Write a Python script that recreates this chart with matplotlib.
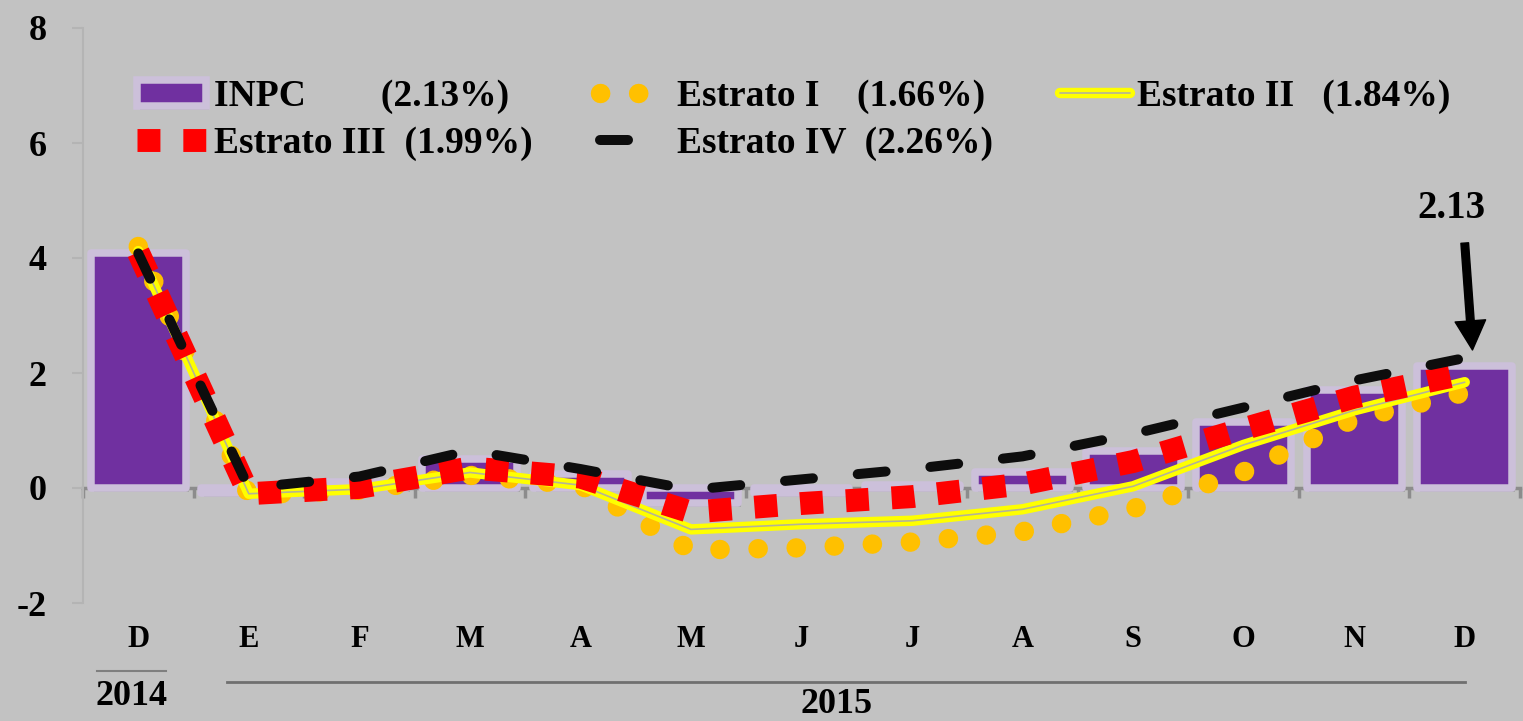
import numpy as np
import matplotlib
matplotlib.use("Agg")
import matplotlib.pyplot as plt
import matplotlib.patheffects as pe
from matplotlib.transforms import blended_transform_factory

# ---------------- data ----------------
months = ["D", "E", "F", "M", "A", "M", "J", "J", "A", "S", "O", "N", "D"]
inpc = [4.08, -0.09, 0.10, 0.51, 0.25, -0.26, -0.09, 0.06, 0.27, 0.64, 1.14, 1.70, 2.13]
estrato1 = [4.20, -0.12, -0.04, 0.22, 0.05, -1.08, -1.04, -0.94, -0.76, -0.36, 0.28, 1.20, 1.66]
estrato2 = [4.12, -0.10, -0.02, 0.27, 0.05, -0.72, -0.63, -0.57, -0.37, 0.03, 0.75, 1.35, 1.84]
estrato3 = [4.10, -0.10, 0.01, 0.35, 0.19, -0.42, -0.27, -0.15, 0.07, 0.46, 1.03, 1.58, 1.99]
estrato4 = [4.08, 0.00, 0.20, 0.65, 0.33, -0.03, 0.15, 0.33, 0.55, 0.94, 1.40, 1.87, 2.26]
labels = ["INPC        (2.13%)", "Estrato I    (1.66%)", "Estrato II   (1.84%)",
          "Estrato III  (1.99%)", "Estrato IV  (2.26%)"]
yticks = [-2, 0, 2, 4, 6, 8]

BG = "#c2c2c2"
plt.rcParams["font.family"] = ["Liberation Serif", "DejaVu Serif"]
plt.rcParams["font.weight"] = "bold"

fig = plt.figure(figsize=(15.23, 7.21), dpi=100, facecolor=BG)
ax = fig.add_axes([83 / 1523, 118 / 721, 1437 / 1523, 575 / 721], facecolor=BG)

x = np.arange(len(months))

bars = ax.bar(x, inpc, width=0.86, color="#7030a0", edgecolor="#ccc0da",
              linewidth=5.4, joinstyle="round", zorder=2, label=labels[0])
for b in bars:
    b.set_path_effects([pe.SimplePatchShadow(offset=(2, -3), shadow_rgbFace="#7a7a7a", alpha=0.35),
                        pe.Normal()])

l1, = ax.plot(x, estrato1, color="#ffc000", lw=14, linestyle=(0, (0.01, 1.95)),
              dash_capstyle="round", zorder=3, label=labels[1])
l2, = ax.plot(x, estrato2, color="#ffff00", lw=7.5, solid_capstyle="round", zorder=4,
              label=labels[2],
              path_effects=[pe.Stroke(linewidth=7.5, foreground="#ffff00"),
                            pe.Stroke(linewidth=1.2, foreground="#b4b496")])
l3, = ax.plot(x, estrato3, color="#ff0000", lw=16.5, linestyle=(0, (1, 1)),
              dash_capstyle="butt", zorder=5, label=labels[3])
l4, = ax.plot(x, estrato4, color="#0d0d0d", lw=7.2, linestyle=(0, (2.8, 4.5)),
              dash_capstyle="round", zorder=6, label=labels[4])

ax.set_xlim(-0.5, len(months) - 0.5)
ax.set_ylim(-2, 8)

# axes styling
for s in ["top", "right"]:
    ax.spines[s].set_visible(False)
ax.spines["left"].set_color("#b4b4b4")
ax.spines["left"].set_linewidth(1.5)
ax.spines["bottom"].set_position(("data", 0))
ax.spines["bottom"].set_color("#8c8c8c")
ax.spines["bottom"].set_linewidth(2.5)
ax.spines["bottom"].set_zorder(1.5)

ax.set_yticks(yticks)
ax.set_yticklabels([str(v) for v in yticks], fontsize=26, fontweight="bold")
ax.tick_params(axis="y", length=8, width=1.5, color="#b4b4b4", pad=18)

ax.set_xticks(x)
ax.set_xticklabels([])
ax.tick_params(axis="x", which="major", length=0)
ax.set_xticks(np.arange(len(months) + 1) - 0.5, minor=True)
ax.tick_params(axis="x", which="minor", length=7, width=2.5, color="#8c8c8c", direction="out")

trans = blended_transform_factory(ax.transData, ax.transAxes)
for xi, m in zip(x, months):
    ax.text(xi, -0.064, m, transform=trans, ha="center", va="center",
            fontsize=22, fontweight="bold")

# year labels and separators
ax.plot([-0.37, 0.25], [-0.119, -0.119], transform=trans, color="#7f7f7f", lw=1.5, clip_on=False)
ax.text(-0.06, -0.163, "2014", transform=trans, ha="center", va="center", fontsize=26, fontweight="bold")
ax.plot([0.80, 12.0], [-0.137, -0.137], transform=trans, color="#6f6f6f", lw=2, clip_on=False)
ax.text(6.32, -0.176, "2015", transform=trans, ha="center", va="center", fontsize=26, fontweight="bold")

# annotation
ax.annotate("", xy=(12.07, inpc[-1] + 0.27), xytext=(12.0, 4.26),
            arrowprops=dict(width=5.5, headwidth=22, headlength=21, facecolor="black",
                            edgecolor="black", shrink=0))
ax.text(11.88, 4.86, f"{inpc[-1]:.2f}", ha="center", va="center", fontsize=28, fontweight="bold")

handles = [bars, l3, l1, l4, l2]
leg_labels = [labels[0], labels[3], labels[1], labels[4], labels[2]]
fig.legend(handles, leg_labels, loc="upper left", bbox_to_anchor=(137 / 1523, 1 - 79 / 721),
           ncol=3, frameon=False, prop={"weight": "bold", "size": 27},
           handlelength=1.85, handletextpad=0.2, columnspacing=1.8, labelspacing=0.32,
           borderpad=0, borderaxespad=0)

fig.savefig("out.png", dpi=100, facecolor=BG)
